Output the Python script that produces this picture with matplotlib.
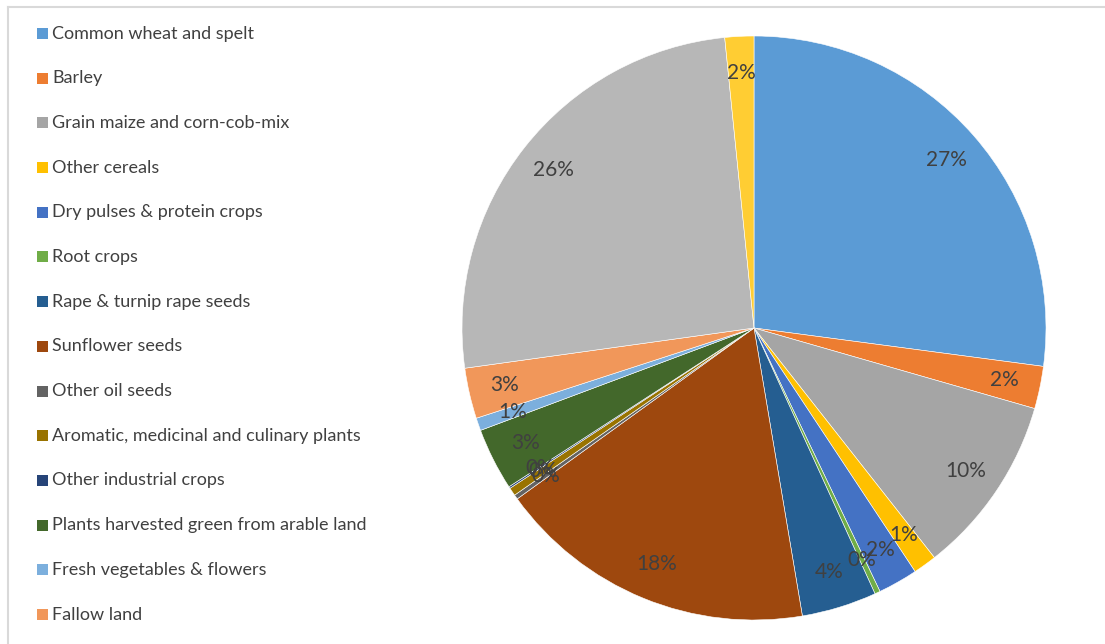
import matplotlib
matplotlib.use("Agg")
import matplotlib.pyplot as plt
from matplotlib.patches import Rectangle
from matplotlib.lines import Line2D

plt.rcParams['font.family'] = ['Lato', 'DejaVu Sans']

categories = [
    "Common wheat and spelt",
    "Barley",
    "Grain maize and corn-cob-mix",
    "Other cereals",
    "Dry pulses & protein crops",
    "Root crops",
    "Rape & turnip rape seeds",
    "Sunflower seeds",
    "Other oil seeds",
    "Aromatic, medicinal and culinary plants",
    "Other industrial crops",
    "Plants harvested green from arable land",
    "Fresh vegetables & flowers",
    "Fallow land",
    "Permanent grassland",
    "Permanent crops",
]
shares = [27.1, 2.35, 9.95, 1.3, 2.2, 0.3, 4.15, 17.7, 0.25, 0.45, 0.1,
          3.45, 0.7, 2.8, 25.6, 1.6]
colors = ["#5B9BD5", "#ED7D31", "#A5A5A5", "#FFC000", "#4472C4", "#70AD47",
          "#255E91", "#9E480E", "#636363", "#997300", "#264478", "#43682B",
          "#7CAFDD", "#F1975A", "#B7B7B7", "#FFCD33"]
legend_count = 14  # the legend in the original shows only the first 14 entries

W, H = 1105, 644
fig = plt.figure(figsize=(W / 100, H / 100), dpi=100)

# pie axes: centre (754, 328) px, radius 292 px
cx, cy, r = 754, 328, 292
ax = fig.add_axes([(cx - r) / W, (H - cy - r) / H, 2 * r / W, 2 * r / H])
ax.pie(shares, colors=colors, startangle=90, counterclock=False, radius=1,
       wedgeprops=dict(edgecolor="white", linewidth=0.4),
       autopct=lambda p: f"{p:.0f}%", pctdistance=0.875,
       textprops=dict(color="#404040", fontsize=15))
ax.set_xlim(-1, 1)
ax.set_ylim(-1, 1)
ax.set_aspect("equal")
ax.axis("off")

# legend (manual, Excel-like)
top_y = 33.5
step = 44.7
for i in range(legend_count):
    y = top_y + i * step
    fig.patches.append(Rectangle((37 / W, 1 - (y + 5.5) / H), 11 / W, 11 / H,
                                 transform=fig.transFigure, facecolor=colors[i],
                                 edgecolor="none"))
    fig.text(52 / W, 1 - y / H, categories[i], fontsize=13, color="#404040",
             va="center", ha="left")

# chart frame (top and left edges visible)
fig.add_artist(Line2D([8 / W, 1], [1 - 7 / H, 1 - 7 / H], transform=fig.transFigure,
                      color="#D9D9D9", linewidth=1.5))
fig.add_artist(Line2D([8 / W, 8 / W], [0, 1 - 7 / H], transform=fig.transFigure,
                      color="#D9D9D9", linewidth=1.5))

fig.savefig("out.png", dpi=100, facecolor="white")
